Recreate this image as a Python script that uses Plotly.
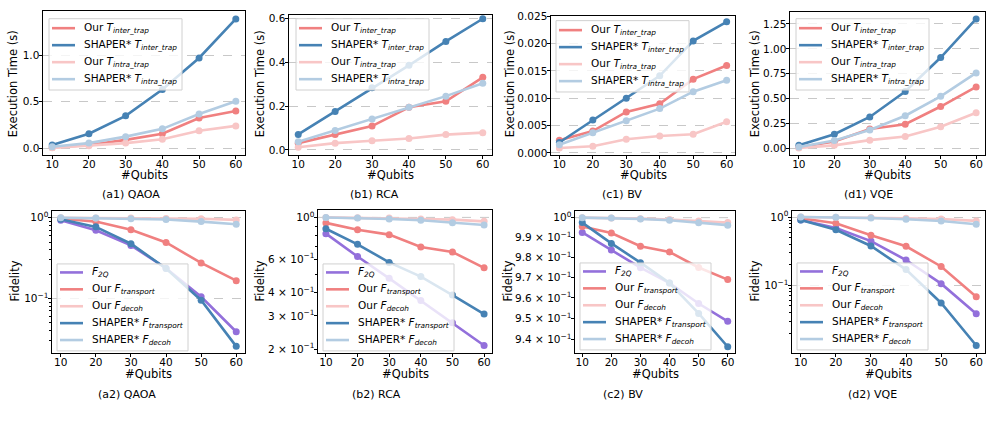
import math
import plotly.graph_objects as go
from plotly.subplots import make_subplots

qubits = [10, 20, 30, 40, 50, 60]

# execution time (s) - top row
qaoa_our_inter = [0.007, 0.032, 0.088, 0.154, 0.323, 0.400]
qaoa_shaper_inter = [0.032, 0.154, 0.347, 0.632, 0.972, 1.393]
qaoa_our_intra = [0.002, 0.025, 0.053, 0.095, 0.186, 0.239]
qaoa_shaper_intra = [0.014, 0.053, 0.123, 0.207, 0.368, 0.505]

rca_our_inter = [0.031, 0.071, 0.109, 0.195, 0.222, 0.332]
rca_shaper_inter = [0.071, 0.176, 0.284, 0.387, 0.496, 0.600]
rca_our_intra = [0.012, 0.031, 0.042, 0.052, 0.070, 0.079]
rca_shaper_intra = [0.037, 0.089, 0.141, 0.195, 0.246, 0.305]

bv_our_inter = [0.0023, 0.0040, 0.0075, 0.0090, 0.0135, 0.0160]
bv_shaper_inter = [0.0019, 0.0060, 0.0100, 0.0141, 0.0205, 0.0240]
bv_our_intra = [0.0009, 0.0012, 0.0025, 0.0031, 0.0034, 0.0057]
bv_shaper_intra = [0.0015, 0.0037, 0.0059, 0.0081, 0.0112, 0.0133]

vqe_our_inter = [0.013, 0.072, 0.196, 0.245, 0.422, 0.618]
vqe_shaper_inter = [0.033, 0.144, 0.317, 0.573, 0.913, 1.300]
vqe_our_intra = [0.007, 0.033, 0.085, 0.121, 0.219, 0.360]
vqe_shaper_intra = [0.016, 0.082, 0.187, 0.330, 0.524, 0.759]

# fidelity - bottom row
qaoa_f2q = [0.93, 0.70, 0.454, 0.237, 0.105, 0.0387]
qaoa_our_transport = [0.98, 0.895, 0.71, 0.494, 0.275, 0.166]
qaoa_our_decoh = [1.0, 0.995, 0.99, 0.98, 0.97, 0.94]
qaoa_shaper_transport = [0.955, 0.77, 0.476, 0.235, 0.095, 0.0255]
qaoa_shaper_decoh = [1.0, 0.99, 0.97, 0.95, 0.895, 0.83]

rca_f2q = [0.82, 0.62, 0.475, 0.362, 0.276, 0.209]
rca_our_transport = [0.935, 0.86, 0.81, 0.696, 0.655, 0.54]
rca_our_decoh = [1.0, 0.995, 0.992, 0.98, 0.973, 0.953]
rca_shaper_transport = [0.87, 0.72, 0.577, 0.485, 0.387, 0.307]
rca_shaper_decoh = [0.998, 0.992, 0.98, 0.965, 0.938, 0.912]

bv_f2q = [0.9925, 0.9837, 0.9749, 0.9673, 0.9573, 0.9487]
bv_our_transport = [0.9955, 0.9922, 0.9856, 0.9827, 0.975, 0.969]
bv_our_decoh = [1.0, 0.9998, 0.9995, 0.999, 0.9983, 0.9975]
bv_shaper_transport = [0.9975, 0.987, 0.9774, 0.9673, 0.9525, 0.9365]
bv_shaper_decoh = [1.0, 0.9998, 0.9993, 0.9987, 0.9974, 0.9962]

vqe_f2q = [0.906, 0.689, 0.444, 0.235, 0.106, 0.0385]
vqe_our_transport = [0.957, 0.812, 0.541, 0.373, 0.189, 0.068]
vqe_our_decoh = [1.0, 0.99, 0.98, 0.957, 0.936, 0.877]
vqe_shaper_transport = [0.906, 0.652, 0.377, 0.17, 0.0553, 0.0132]
vqe_shaper_decoh = [1.0, 0.99, 0.967, 0.926, 0.877, 0.786]

captions_top = ["(a1) QAOA", "(b1) RCA", "(c1) BV", "(d1) VQE"]
captions_bottom = ["(a2) QAOA", "(b2) RCA", "(c2) BV", "(d2) VQE"]

W, H = 991, 435
FONT = "DejaVu Sans"
RED = "#f08080"
BLUE = "#4682b4"
PINK = "#f8c6c6"
LBLUE = "#b3cce2"
PURPLE = "#9370db"

def px_x(a):
    return a / W

def px_y(a):
    return 1 - a / H

# plot frames in pixels: (left, right, top, bottom)
frames = [
    (43, 245, 5, 152), (289, 492, 9, 152), (551, 735, 10, 152), (790, 985, 6, 152),
    (52, 245, 210, 355), (318, 492, 209, 355), (575, 735, 210, 355), (792, 985, 210, 355),
]
# legend boxes in pixels: (left, top)
legend_pos = [(49, 13), (296, 13), (556, 15), (796, 13),
              (57, 264), (323, 264), (580, 263), (797, 263)]
ylabel_x = [13, 260, 510, 755, 15, 260, 508, 755]
caption_x_top = [131, 374, 622, 868]
caption_x_bottom = [127, 376, 623, 872]

top_sets = [
    (qaoa_our_inter, qaoa_shaper_inter, qaoa_our_intra, qaoa_shaper_intra),
    (rca_our_inter, rca_shaper_inter, rca_our_intra, rca_shaper_intra),
    (bv_our_inter, bv_shaper_inter, bv_our_intra, bv_shaper_intra),
    (vqe_our_inter, vqe_shaper_inter, vqe_our_intra, vqe_shaper_intra),
]
bottom_sets = [
    (qaoa_f2q, qaoa_our_transport, qaoa_our_decoh, qaoa_shaper_transport, qaoa_shaper_decoh),
    (rca_f2q, rca_our_transport, rca_our_decoh, rca_shaper_transport, rca_shaper_decoh),
    (bv_f2q, bv_our_transport, bv_our_decoh, bv_shaper_transport, bv_shaper_decoh),
    (vqe_f2q, vqe_our_transport, vqe_our_decoh, vqe_shaper_transport, vqe_shaper_decoh),
]

top_names = ["Our <i>T<sub>inter_trap</sub></i>", "SHAPER* <i>T<sub>inter_trap</sub></i>",
             "Our <i>T<sub>intra_trap</sub></i>", "SHAPER* <i>T<sub>intra_trap</sub></i>"]
top_colors = [RED, BLUE, PINK, LBLUE]
bottom_names = ["<i>F<sub>2Q</sub></i>", "Our <i>F<sub>transport</sub></i>", "Our <i>F<sub>decoh</sub></i>",
                "SHAPER* <i>F<sub>transport</sub></i>", "SHAPER* <i>F<sub>decoh</sub></i>"]
bottom_colors = [PURPLE, RED, PINK, BLUE, LBLUE]

fig = make_subplots(rows=2, cols=4)

annotations = []
shapes = []

def add_panel(idx, series, names, colors):
    row, col = idx // 4 + 1, idx % 4 + 1
    for vals, name, color in zip(series, names, colors):
        fig.add_trace(go.Scatter(x=qubits, y=vals, mode="lines+markers", name=name,
                                 line=dict(color=color, width=2.6),
                                 marker=dict(color=color, size=7),
                                 showlegend=False), row=row, col=col)

    # matplotlib-like legend box: semi-transparent white, drawn over the lines
    lx, ly = legend_pos[idx]
    if idx < 4:
        box_w, box_h, row_off, step = 133, 73, 9.7, 17.4
    else:
        box_w, box_h, row_off, step = 131, 89, 8.7, 17.3
    shapes.append(dict(type="rect", xref="paper", yref="paper", layer="above",
                       x0=px_x(lx), x1=px_x(lx + box_w), y0=px_y(ly + box_h), y1=px_y(ly),
                       fillcolor="rgba(255,255,255,0.8)", line=dict(color="#d0d0d0", width=1)))
    for k, (name, color) in enumerate(zip(names, colors)):
        yy = ly + row_off + k * step
        shapes.append(dict(type="line", xref="paper", yref="paper", layer="above",
                           x0=px_x(lx + 3), x1=px_x(lx + 26), y0=px_y(yy), y1=px_y(yy),
                           line=dict(color=color, width=2.6)))
        annotations.append(dict(text=name, x=px_x(lx + 33), y=px_y(yy), xanchor="left",
                                font=dict(family=FONT, size=10.5, color="black")))

for i, s in enumerate(top_sets):
    add_panel(i, s, top_names, top_colors)
for i, s in enumerate(bottom_sets):
    add_panel(i + 4, s, bottom_names, bottom_colors)

axis_common = dict(showline=True, mirror=True, linecolor="black", linewidth=1,
                   ticks="outside", ticklen=3.5, tickwidth=1, tickcolor="black",
                   tickfont=dict(family=FONT, size=10.5, color="black"), zeroline=False)

sup = lambda e: "10<sup>%s</sup>" % e
y_specs = [
    dict(range=[-0.07, 1.48], tickvals=[0, 0.5, 1.0], ticktext=["0.0", "0.5", "1.0"]),
    dict(range=[-0.021, 0.618], tickvals=[0, 0.2, 0.4, 0.6], ticktext=["0.0", "0.2", "0.4", "0.6"]),
    dict(range=[-0.0003, 0.0251], tickvals=[0, 0.005, 0.01, 0.015, 0.02, 0.025],
         ticktext=["0.000", "0.005", "0.010", "0.015", "0.020", "0.025"]),
    dict(range=[-0.059, 1.371], tickvals=[0, 0.25, 0.5, 0.75, 1.0, 1.25],
         ticktext=["0.00", "0.25", "0.50", "0.75", "1.00", "1.25"]),
    dict(type="log", range=[math.log10(0.0212), math.log10(1.205)], tickvals=[1, 0.1],
         ticktext=[sup("0"), sup("\u22121")],
         minor=dict(ticks="outside", ticklen=2, tickcolor="black",
                    tickvals=[0.03, 0.04, 0.05, 0.06, 0.07, 0.08, 0.09, 0.2, 0.3, 0.4, 0.5, 0.6, 0.7, 0.8, 0.9])),
    dict(type="log", range=[math.log10(0.191), math.log10(1.092)], tickvals=[1, 0.6, 0.4, 0.3, 0.2],
         ticktext=[sup("0"), "6 \u00d7 " + sup("\u22121"), "4 \u00d7 " + sup("\u22121"),
                   "3 \u00d7 " + sup("\u22121"), "2 \u00d7 " + sup("\u22121")],
         showgrid=False,
         minor=dict(ticks="outside", ticklen=2, tickcolor="black", tickvals=[0.5, 0.7, 0.8, 0.9])),
    dict(type="log", range=[math.log10(0.9336), math.log10(1.0033)],
         tickvals=[1, 0.99, 0.98, 0.97, 0.96, 0.95, 0.94],
         ticktext=[sup("0")] + ["%s \u00d7 %s" % (m, sup("\u22121")) for m in ["9.9", "9.8", "9.7", "9.6", "9.5", "9.4"]],
         showgrid=False),
    dict(type="log", range=[math.log10(0.0103), math.log10(1.218)], tickvals=[1, 0.1],
         ticktext=[sup("0"), sup("\u22121")],
         minor=dict(ticks="outside", ticklen=2, tickcolor="black",
                    tickvals=[0.02, 0.03, 0.04, 0.05, 0.06, 0.07, 0.08, 0.09, 0.2, 0.3, 0.4, 0.5, 0.6, 0.7, 0.8, 0.9])),
]

for i, (l, r, t, b) in enumerate(frames):
    n = i + 1
    xa = "xaxis" if n == 1 else "xaxis%d" % n
    ya = "yaxis" if n == 1 else "yaxis%d" % n
    fig.layout[xa].update(domain=[px_x(l), px_x(r)], range=[7.5, 62.5],
                          tickvals=qubits, showgrid=False, ticklabelstandoff=-4, **axis_common)
    spec = dict(showgrid=True, gridcolor="#c8c8c8", griddash="dash", gridwidth=1)
    spec.update(y_specs[i])
    fig.layout[ya].update(domain=[px_y(b), px_y(t)], ticklabelstandoff=-3, **axis_common)
    fig.layout[ya].update(**spec)

    cx = px_x((l + r) / 2)
    if i < 4:
        annotations.append(dict(text="Execution Time (s)", x=px_x(ylabel_x[i]), y=px_y(80), textangle=-90))
        annotations.append(dict(text="#Qubits", x=cx, y=px_y(173)))
        annotations.append(dict(text=captions_top[i], x=px_x(caption_x_top[i]), y=px_y(193),
                                font=dict(family=FONT, size=11, color="black")))
    else:
        annotations.append(dict(text="Fidelity", x=px_x(ylabel_x[i]), y=px_y(282), textangle=-90))
        annotations.append(dict(text="#Qubits", x=cx, y=px_y(377)))
        annotations.append(dict(text=captions_bottom[i - 4], x=px_x(caption_x_bottom[i - 4]), y=px_y(398),
                                font=dict(family=FONT, size=11, color="black")))

    if i in (5, 6):
        # only the 10^0 line is a major grid line on these two axes
        shapes.append(dict(type="line", xref="x%d domain" % n, x0=0, x1=1, yref="y%d" % n, y0=1, y1=1,
                           line=dict(color="#c8c8c8", width=1, dash="dash"), layer="below"))

final_ann = []
for a in annotations:
    base = dict(xref="paper", yref="paper", showarrow=False, xanchor="center", yanchor="middle",
                textangle=0, font=dict(family=FONT, size=11.5, color="black"))
    base.update(a)
    final_ann.append(base)

fig.update_layout(width=W, height=H, margin=dict(l=0, r=0, t=0, b=0),
                  paper_bgcolor="white", plot_bgcolor="white",
                  annotations=final_ann, shapes=shapes,
                  font=dict(family=FONT, size=10.5, color="black"))

fig.write_html("out.html", config={"displayModeBar": False},
               post_script="document.body.style.margin='0';")
